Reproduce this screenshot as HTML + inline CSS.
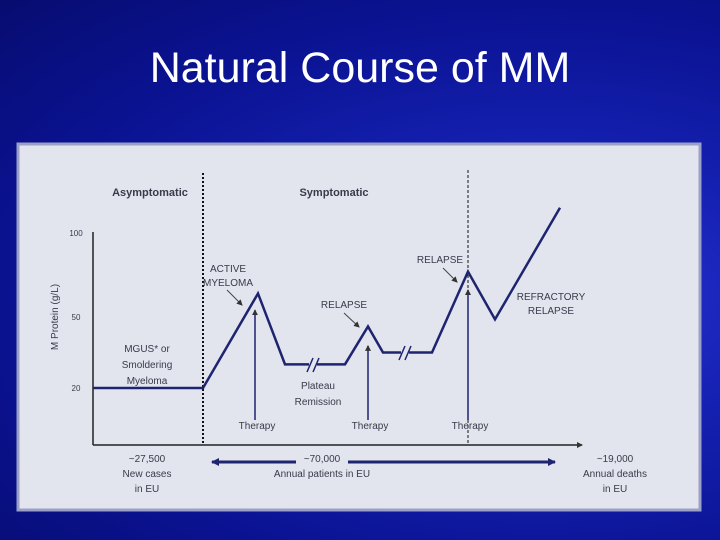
<!DOCTYPE html>
<html><head><meta charset="utf-8"><style>
body{margin:0;width:720px;height:540px;overflow:hidden;font-family:"Liberation Sans",sans-serif;}
#bg{position:absolute;left:0;top:0;width:720px;height:540px;background:radial-gradient(ellipse at 75% 55%,#2a34d8 0%,#1420b0 35%,#0a1290 70%,#070c70 100%);}
#title{position:absolute;left:0;width:720px;top:44px;text-align:center;color:#fff;font-size:43px;}
</style></head><body>
<div id="bg"></div>
<div id="title">Natural Course of MM</div>
<svg id="chart" width="720" height="540" style="position:absolute;left:0;top:0">
<defs><marker id="ah" markerUnits="userSpaceOnUse" markerWidth="8" markerHeight="8" refX="7" refY="4" orient="auto-start-reverse"><path d="M0,0L8,4L0,8z" fill="#1e2470"/></marker>
<marker id="ahs" markerUnits="userSpaceOnUse" markerWidth="6" markerHeight="6" refX="5" refY="3" orient="auto"><path d="M0,0L6,3L0,6z" fill="#333"/></marker></defs>
<rect x="18" y="144" width="682" height="366" fill="#e2e4ee" stroke="#9aa0c8" stroke-width="3"/>
<g id="g"></g>
</svg>
<script>
const yTicks=[20,50,100];
const yTickLabels=["20","50","100"];
const times=[0,110,165,192,217,252,275,290,307,339,375,402,467];
const proteins=[20,20,64,30,30,30,46,35,35,35,77,49,115];
const therapyTimes=[162,275,375];
const therapyTops=[60,42,72];
const ns="http://www.w3.org/2000/svg";
const g=document.getElementById('g');
function X(t){return 93+t;}
const yd=[20,50,100],yr=[388,317,233];
function Y(v){let i=v<=50?0:1;return yr[i]+(v-yd[i])*(yr[i+1]-yr[i])/(yd[i+1]-yd[i]);}
function el(tag,a,name){const e=document.createElementNS(ns,tag);for(const k in a)e.setAttribute(k,a[k]);


g.appendChild(e);return e;}
function txt(x,y,s,name,opt){const t=el('text',Object.assign({x:x,y:y,'font-size':10,fill:'#3a3a4a','text-anchor':'middle'},opt||{}),name);t.textContent=s;return t;}
const C='#1e2470';
el('line',{x1:93,y1:232,x2:93,y2:445,stroke:'#222',"stroke-width":1.5},'y-axis');
el('line',{x1:93,y1:445,x2:582,y2:445,stroke:'#222',"stroke-width":1.5,'marker-end':'url(#ahs)'},'x-axis');
yTicks.forEach((v,i)=>{txt(76,Y(v)+3,yTickLabels[i],'y-tick-label',{'font-size':8});});
txt(58,317,'M Protein (g/L)','y-axis-title',{transform:'rotate(-90 58 317)'});
el('line',{x1:203,y1:173,x2:203,y2:445,stroke:'#111','stroke-width':2,'stroke-dasharray':'2,2'},'asymptomatic-divider');
el('line',{x1:468,y1:170,x2:468,y2:445,stroke:'#111','stroke-width':1,'stroke-dasharray':'3,2'},'refractory-divider');
txt(150,196,'Asymptomatic','asymptomatic-header',{'font-weight':'bold','font-size':11});
txt(334,196,'Symptomatic','symptomatic-header',{'font-weight':'bold','font-size':11});
el('polyline',{points:times.map((t,i)=>X(t)+','+Y(proteins[i])).join(' '),fill:'none',stroke:C,'stroke-width':2.5,'stroke-linejoin':'miter'},'m-protein-line');
[[313,365],[405,353]].forEach((p,i)=>{
el('line',{x1:p[0]-4,y1:p[1],x2:p[0]+4,y2:p[1],stroke:'#e2e4ee','stroke-width':4},'break-gap');
el('path',{d:`M${p[0]-6},${p[1]+7}L${p[0]},${p[1]-7}M${p[0]},${p[1]+7}L${p[0]+6},${p[1]-7}`,stroke:C,'stroke-width':1.5,fill:'none'},'axis-break');});
therapyTimes.forEach((t,i)=>{el('line',{x1:X(t),y1:420,x2:X(t),y2:Y(therapyTops[i])+10,stroke:C,'stroke-width':1.5,'marker-end':'url(#ahs)'},'therapy-arrow');
txt(X(t)+2,429,'Therapy','therapy-label');});
txt(147,352,'MGUS* or','mgus-label');txt(147,368,'Smoldering','mgus-label');txt(147,384,'Myeloma','mgus-label');
txt(228,272,'ACTIVE','active-label');txt(228,286,'MYELOMA','active-label');
el('line',{x1:227,y1:290,x2:242,y2:305,stroke:'#444','marker-end':'url(#ahs)'},'active-pointer');
txt(344,308,'RELAPSE','relapse-label-1');
el('line',{x1:344,y1:313,x2:359,y2:327,stroke:'#444','marker-end':'url(#ahs)'},'relapse-pointer-1');
txt(440,263,'RELAPSE','relapse-label-2');
el('line',{x1:443,y1:268,x2:457,y2:282,stroke:'#444','marker-end':'url(#ahs)'},'relapse-pointer-2');
txt(551,300,'REFRACTORY','refractory-label');txt(551,314,'RELAPSE','refractory-label');
txt(318,389,'Plateau','plateau-label');txt(318,405,'Remission','plateau-label');
txt(147,462,'~27,500','new-cases-label');txt(147,477,'New cases','new-cases-label');txt(147,492,'in EU','new-cases-label');
txt(322,462,'~70,000','patients-label');txt(322,477,'Annual patients in EU','patients-label');
txt(615,462,'~19,000','deaths-label');txt(615,477,'Annual deaths','deaths-label');txt(615,492,'in EU','deaths-label');
el('line',{x1:212,y1:462,x2:296,y2:462,stroke:C,'stroke-width':3,'marker-start':'url(#ah)'},'patients-arrow-left');
el('line',{x1:348,y1:462,x2:555,y2:462,stroke:C,'stroke-width':3,'marker-end':'url(#ah)'},'patients-arrow-right');
</script>
</body></html>
